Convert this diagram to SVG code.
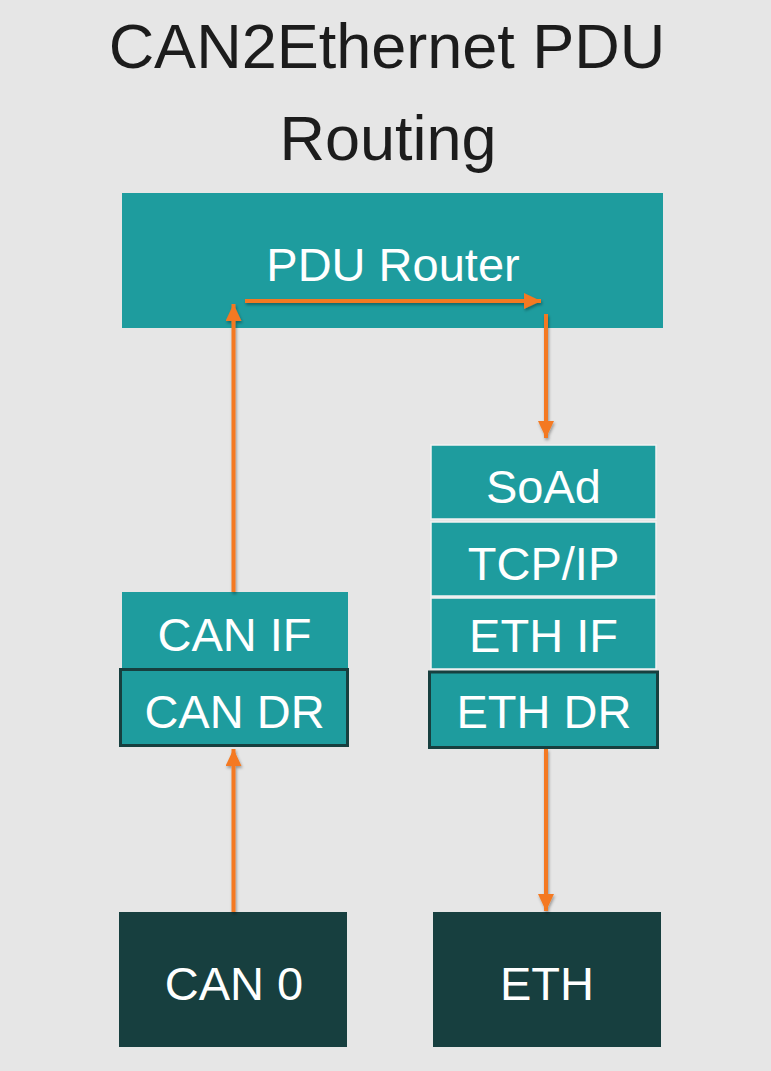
<svg xmlns="http://www.w3.org/2000/svg" width="771" height="1071" viewBox="0 0 771 1071">
<style>
.t{font-family:"Liberation Sans",Arial,sans-serif;text-anchor:middle}
.title{font-size:63px;fill:#1c1c1c}
.lbl{font-size:47px;fill:#ffffff}
.teal{fill:#1e9c9e}
.dark{fill:#173f3f}
.stack{fill:#1e9c9e;stroke:#f2f2f2;stroke-width:1.5}
.drv{fill:#1e9c9e;stroke:#173f3f;stroke-width:3}
.arr{stroke:#f47920;stroke-width:4;fill:none;marker-end:url(#ah)}
</style>
<defs>
<marker id="ah" markerUnits="userSpaceOnUse" markerWidth="18" markerHeight="16" viewBox="0 0 18 16" refX="17" refY="8" orient="auto">
<path d="M0,0 L17,8 L0,16 Z" fill="#f47920"/>
</marker>
<filter id="sh" filterUnits="userSpaceOnUse" x="0" y="0" width="771" height="1071">
<feDropShadow dx="1" dy="2" stdDeviation="1.5" flood-color="#000" flood-opacity="0.35"/>
</filter>
</defs>
<rect x="0" y="0" width="771" height="1071" fill="#e6e6e6"/>
<g id="title">
<text class="t title" x="387" y="68">CAN2Ethernet PDU</text>
<text class="t title" x="388" y="160">Routing</text>
</g>
<g id="pdu-router">
<rect class="teal" x="122" y="193" width="541" height="135"/>
<text class="t lbl" x="393" y="281">PDU Router</text>
</g>
<g id="soad">
<rect class="stack" x="431" y="445" width="225" height="74"/>
<text class="t lbl" x="543.5" y="503">SoAd</text>
</g>
<g id="tcpip">
<rect class="stack" x="431" y="522" width="225" height="74"/>
<text class="t lbl" x="543.5" y="580">TCP/IP</text>
</g>
<g id="eth-if">
<rect class="stack" x="431" y="598" width="225" height="71"/>
<text class="t lbl" x="543.5" y="652">ETH IF</text>
</g>
<g id="eth-dr">
<rect class="drv" x="429.5" y="672" width="228" height="75.5"/>
<text class="t lbl" x="544" y="728">ETH DR</text>
</g>
<g id="can-if">
<rect class="teal" x="122" y="592" width="226" height="77"/>
<text class="t lbl" x="234.5" y="651">CAN IF</text>
</g>
<g id="can-dr">
<rect class="drv" x="120.5" y="669.5" width="227" height="76"/>
<text class="t lbl" x="234.5" y="728">CAN DR</text>
</g>
<g id="can0">
<rect class="dark" x="119" y="912" width="228" height="135"/>
<text class="t lbl" x="234" y="1000">CAN 0</text>
</g>
<g id="eth">
<rect class="dark" x="433" y="912" width="228" height="135"/>
<text class="t lbl" x="547" y="1000">ETH</text>
</g>
<g id="connectors" filter="url(#sh)">
<path class="arr" d="M233.5,592 L233.5,304"/>
<path class="arr" d="M245,301 L541,301"/>
<path class="arr" d="M546,314 L546,438"/>
<path class="arr" d="M233.5,912 L233.5,749"/>
<path class="arr" d="M546,749 L546,911"/>
</g>
</svg>
